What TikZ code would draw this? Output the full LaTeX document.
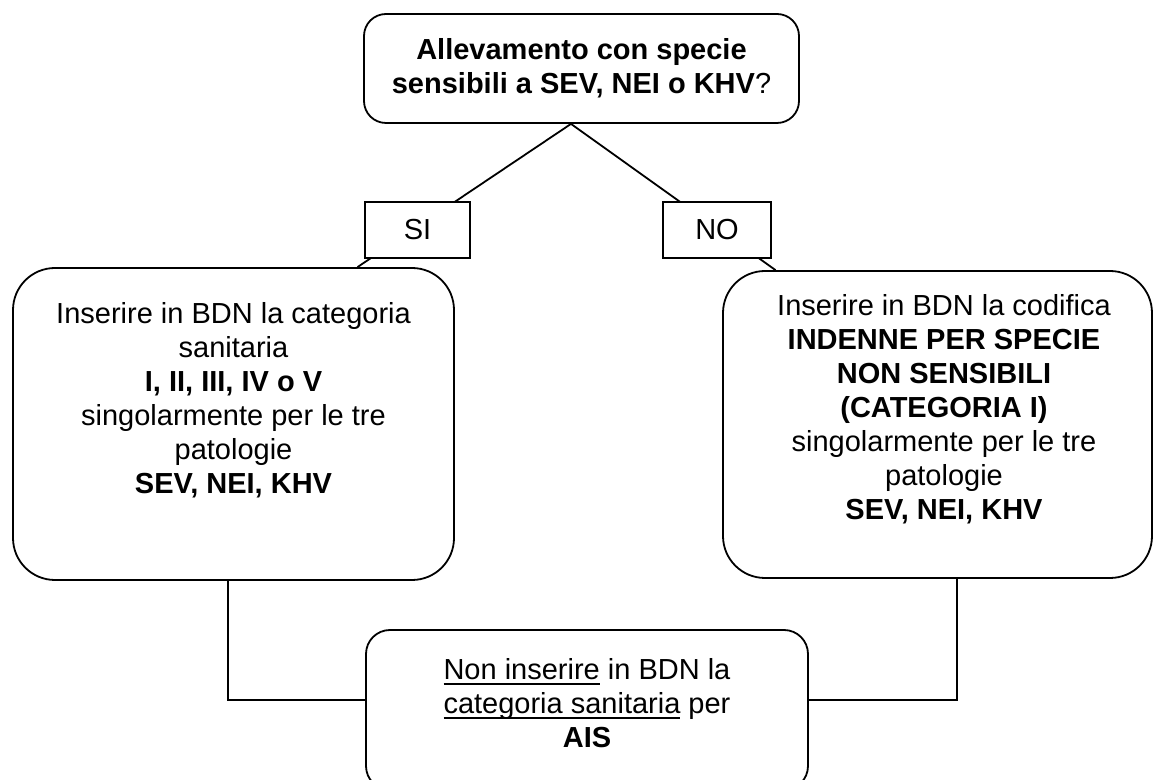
\documentclass[tikz,border=0pt]{standalone}
\usepackage{fontspec}
\setmainfont{Liberation Sans}
\usetikzlibrary{positioning}
\newcommand{\ulthick}[1]{\setbox0\hbox{#1}\rlap{\vrule width\wd0 height -2.2pt depth 3.2pt}\box0\relax}

\begin{document}
\begin{tikzpicture}[x=0.5pt, y=-0.5pt, line width=0.9pt, inner sep=0pt,
		font=\fontsize{14.5pt}{17pt}\selectfont]

		\useasboundingbox (0,0) rectangle (1153,780);	%画像の大きさ

		\tikzset {
			styleBox/.style= {
				draw, rounded corners=#1
			},		%角の丸い枠
			styleTag/.style= {
				draw, fill=white, minimum height=28pt
			},		%SI, NOの四角
			styleText/.style= {
				align=center
			}
		};

		%質問の枠
		\node [styleBox=11pt, styleText, minimum width=217.5pt, minimum height=54.5pt]
			(q) at (581.5,68.5)
			{\textbf{Allevamento con specie}\\ \textbf{sensibili a SEV, NEI o KHV}?};

		%答えの枠
		\node [styleBox=21pt, minimum width=220.5pt, minimum height=156pt]
			(lbox) at (233.5,424) {};
		\node [styleBox=21pt, minimum width=214.5pt, minimum height=153.5pt]
			(rbox) at (937.5,424.5) {};
		\node [styleBox=12pt, minimum width=221pt, minimum height=80pt]
			(ais) at (587,710) {};

		%質問から答えへの線
		\coordinate (apex) at ([xshift=-5.25pt]q.south);
		\foreach \boxName/\shift in {lbox/62pt, rbox/-81pt} {
			\draw (apex) -- ([xshift=\shift]\boxName.north);
		}

		%線の上にSI, NOを置く
		\node [styleTag, minimum width=52.5pt] (si) at (417.5,230) {SI};
		\node [styleTag, minimum width=54pt] (no) at (717,230) {NO};

		%下の枠への線
		\draw ([xshift=-2.75pt]lbox.south) |- ([yshift=5pt]ais.west);
		\draw ([xshift=9.75pt]rbox.south) |- ([yshift=5pt]ais.east);

		%枠の中の文字
		\node [styleText, below=17pt of lbox.north] (ltext)
			{Inserire in BDN la categoria\\ sanitaria\\ \textbf{I, II, III, IV o V}\\
			 singolarmente per le tre\\ patologie\\ \textbf{SEV, NEI, KHV}};
		\node [styleText, below=11.5pt of rbox.north, xshift=3.25pt] (rtext)
			{Inserire in BDN la codifica\\ \textbf{INDENNE PER SPECIE}\\
			 \textbf{NON SENSIBILI}\\ \textbf{(CATEGORIA I)}\\
			 singolarmente per le tre\\ patologie\\ \textbf{SEV, NEI, KHV}};
		\node [styleText, below=14pt of ais.north] (aistext)
			{\ulthick{Non inserire} in BDN la\\ \ulthick{categoria sanitaria} per\\ \textbf{AIS}};

	\end{tikzpicture}
\end{document}
